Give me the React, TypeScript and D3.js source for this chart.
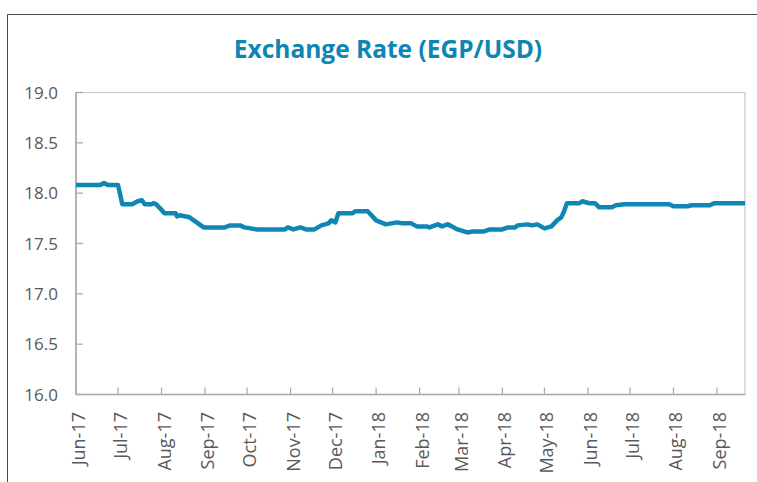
import React from "react";
import * as d3 from "d3";

const dates: string[] = [
  "2017-06-01","2017-06-18","2017-06-21","2017-06-24","2017-07-01","2017-07-04","2017-07-11","2017-07-15","2017-07-18","2017-07-20",
  "2017-07-25","2017-07-26","2017-07-28","2017-07-31","2017-08-03","2017-08-11","2017-08-12","2017-08-14","2017-08-21","2017-08-25",
  "2017-08-31","2017-09-15","2017-09-19","2017-09-26","2017-09-29","2017-10-08","2017-10-28","2017-10-30","2017-11-03","2017-11-08",
  "2017-11-12","2017-11-18","2017-11-23","2017-11-28","2017-11-30","2017-12-03","2017-12-05","2017-12-15","2017-12-17","2017-12-26",
  "2018-01-01","2018-01-08","2018-01-12","2018-01-16","2018-01-20","2018-01-26","2018-01-30","2018-02-06","2018-02-08","2018-02-14",
  "2018-02-17","2018-02-21","2018-02-24","2018-02-28","2018-03-07","2018-03-11","2018-03-19","2018-03-23","2018-04-01","2018-04-05",
  "2018-04-10","2018-04-12","2018-04-19","2018-04-22","2018-04-26","2018-05-01","2018-05-06","2018-05-10","2018-05-13","2018-05-15",
  "2018-05-17","2018-05-26","2018-05-28","2018-06-02","2018-06-06","2018-06-09","2018-06-18","2018-06-21","2018-06-27","2018-07-29",
  "2018-08-01","2018-08-11","2018-08-14","2018-08-27","2018-08-30","2018-09-21"
];

const rates: number[] = [
  18.08,18.08,18.10,18.08,18.08,17.89,17.89,17.92,17.93,17.89,
  17.89,17.90,17.89,17.85,17.80,17.80,17.77,17.78,17.76,17.72,
  17.66,17.66,17.68,17.68,17.66,17.64,17.64,17.66,17.64,17.66,
  17.64,17.64,17.68,17.70,17.73,17.71,17.80,17.80,17.82,17.82,
  17.73,17.69,17.70,17.71,17.70,17.70,17.67,17.67,17.66,17.69,
  17.67,17.69,17.67,17.64,17.61,17.62,17.62,17.64,17.64,17.66,
  17.66,17.68,17.69,17.68,17.69,17.65,17.67,17.73,17.76,17.82,
  17.90,17.90,17.92,17.90,17.90,17.86,17.86,17.88,17.89,17.89,
  17.87,17.87,17.88,17.88,17.90,17.90
];

const yTicks: number[] = [16.0, 16.5, 17.0, 17.5, 18.0, 18.5, 19.0];
const title = "Exchange Rate (EGP/USD)";

export default function App() {
  const W = 757, H = 482;
  const left = 76, right = 745, top = 92.5, bottom = 394.5;
  const parse = d3.timeParse("%Y-%m-%d");
  const data = dates.map((d, i) => ({ date: parse(d) as Date, v: rates[i] }));
  const x = d3.scaleTime()
    .domain([parse("2017-06-01") as Date, parse("2018-09-21") as Date])
    .range([left, right]);
  const y = d3.scaleLinear().domain([16, 19]).range([bottom, top]);
  const line = d3.line<{ date: Date; v: number }>()
    .x(d => x(d.date))
    .y(d => y(d.v))
    .curve(d3.curveLinear);
  const months = d3.timeMonth.range(parse("2017-06-01") as Date, parse("2018-09-21") as Date);
  const fmt = d3.timeFormat("%b-%y");
  const font = "'Open Sans', 'Noto Sans', sans-serif";
  const textCol = "#595959";

  return (
    <div style={{ position: "absolute", left: 0, top: 0 }}>
      <svg width={W} height={H} style={{ display: "block", background: "#fff" }}>
        {/* outer frame */}
        <line x1={7.5} y1={14.5} x2={W} y2={14.5} stroke="#4a4a4a" strokeWidth={1} />
        <line x1={7.5} y1={14.5} x2={7.5} y2={H} stroke="#4a4a4a" strokeWidth={1} />

        <text x={388} y={58} textAnchor="middle" fill="#0d86b3"
          style={{ fontFamily: font, fontWeight: 700, fontSize: 24.5 }}>{title}</text>

        {/* plot border */}
        <rect x={left} y={top} width={right - left} height={bottom - top}
          fill="none" stroke="#c8c8c8" strokeWidth={1.2} />
        <line x1={left} y1={top} x2={left} y2={bottom} stroke="#a8a8a8" strokeWidth={1.6} />
        <line x1={left} y1={bottom} x2={right} y2={bottom} stroke="#a8a8a8" strokeWidth={1.6} />

        {yTicks.map(t => (
          <g key={t}>
            <line x1={left} x2={left + 7} y1={y(t)} y2={y(t)} stroke="#a8a8a8" strokeWidth={1.2} />
            <text x={58} y={y(t)} dy="0.36em" textAnchor="end" fill={textCol}
              style={{ fontFamily: font, fontSize: 17 }}>{t.toFixed(1)}</text>
          </g>
        ))}

        {months.map(m => (
          <g key={m.getTime()}>
            <line x1={x(m)} x2={x(m)} y1={bottom} y2={bottom - 7} stroke="#a8a8a8" strokeWidth={1.2} />
            <text transform={`translate(${x(m) + 2.5},412) rotate(-90)`} dy="0.36em" textAnchor="end"
              fill={textCol} style={{ fontFamily: font, fontSize: 18 }}>{fmt(m)}</text>
          </g>
        ))}

        <path d={line(data) || ""} fill="none" stroke="#0f87b4" strokeWidth={4.5}
          strokeLinejoin="round" strokeLinecap="butt" />
      </svg>
    </div>
  );
}
